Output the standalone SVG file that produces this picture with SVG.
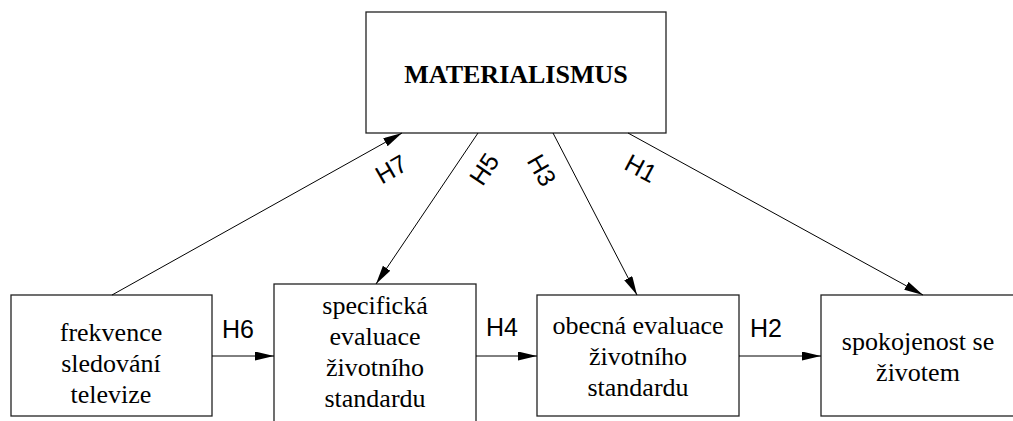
<svg xmlns="http://www.w3.org/2000/svg" width="1013" height="421" viewBox="0 0 1013 421">
<style>
.box{fill:#fff;stroke:#222;stroke-width:1.3}
.t{font-family:"Liberation Serif","Times New Roman",serif;font-size:26px;fill:#000;text-anchor:middle}
.tb{font-family:"Liberation Serif","Times New Roman",serif;font-size:26px;font-weight:bold;fill:#000;text-anchor:middle}
.lab{font-family:"Liberation Sans",Arial,sans-serif;font-size:25px;fill:#000;text-anchor:middle;dominant-baseline:central}
.c{stroke:#000;stroke-width:1;fill:none;marker-end:url(#ah)}
</style>
<defs>
<marker id="ah" markerUnits="userSpaceOnUse" markerWidth="20" markerHeight="10" refX="19" refY="4.5" orient="auto">
<path d="M0,0 L19,4.5 L0,9 z" fill="#000"/>
</marker>
</defs>
<rect width="1013" height="421" fill="#fff"/>
<g id="materialismus">
<rect class="box" x="366" y="12" width="300" height="121"/>
<text class="tb" x="516" y="83">MATERIALISMUS</text>
</g>
<g id="frekvence">
<rect class="box" x="11" y="295" width="201" height="121"/>
<text class="t" x="111" y="341">frekvence</text>
<text class="t" x="111" y="372">sledování</text>
<text class="t" x="111" y="403">televize</text>
</g>
<g id="specificka">
<rect class="box" x="274" y="284" width="202" height="145"/>
<text class="t" x="375" y="314">specifická</text>
<text class="t" x="375" y="345">evaluace</text>
<text class="t" x="375" y="376">životního</text>
<text class="t" x="375" y="407">standardu</text>
</g>
<g id="obecna">
<rect class="box" x="537" y="295" width="202" height="121"/>
<text class="t" x="638" y="334">obecná evaluace</text>
<text class="t" x="638" y="365">životního</text>
<text class="t" x="638" y="396">standardu</text>
</g>
<g id="spokojenost">
<rect class="box" x="821" y="295" width="200" height="121"/>
<text class="t" x="918" y="350">spokojenost se</text>
<text class="t" x="918" y="381">životem</text>
</g>
<g id="connectors">
<line class="c" x1="212" y1="356" x2="274" y2="356"/>
<line class="c" x1="476" y1="356" x2="537" y2="356"/>
<line class="c" x1="739" y1="356" x2="821" y2="356"/>
<line class="c" x1="112" y1="295" x2="402" y2="133"/>
<line class="c" x1="478" y1="133" x2="376" y2="284"/>
<line class="c" x1="553" y1="133" x2="637" y2="295"/>
<line class="c" x1="628" y1="133" x2="923" y2="295"/>
<text class="lab" x="238" y="329">H6</text>
<text class="lab" x="502" y="327">H4</text>
<text class="lab" x="766" y="328">H2</text>
<text class="lab" transform="translate(391,169) rotate(-30)">H7</text>
<text class="lab" transform="translate(484,169) rotate(-56)">H5</text>
<text class="lab" transform="translate(542,170) rotate(60)">H3</text>
<text class="lab" transform="translate(641,168) rotate(28)">H1</text>
</g>
</svg>
